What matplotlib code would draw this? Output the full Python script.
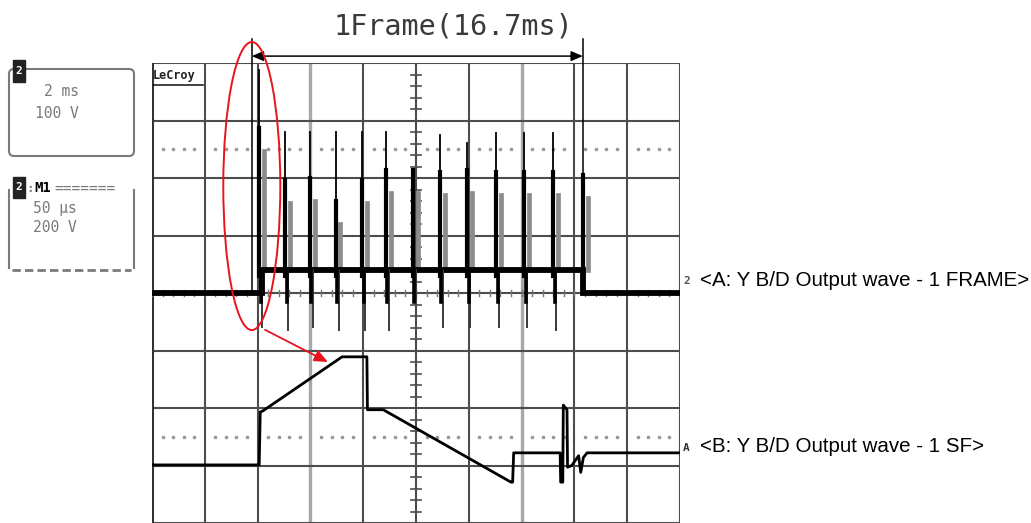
import matplotlib
matplotlib.use("Agg")
import matplotlib.pyplot as plt
from matplotlib.patches import Ellipse, FancyBboxPatch, Rectangle, FancyArrowPatch

# ---------------- data (scope grid divisions; x: 0..10, y: -4..4, 0 = centre line) ----------------
# Channel A (upper trace): 1 frame, 2 ms/div, 100 V/div
a_level_t = [0.0, 2.08, 2.08, 8.16, 8.16, 10.0]
a_level_v = [0.0, 0.0, 0.40, 0.40, 0.0, 0.0]
spike_t    = [2.03, 2.52, 2.99, 3.48, 3.98, 4.43, 4.94, 5.45, 5.97, 6.52, 7.05, 7.60, 8.16]
spike_up   = [3.88, 2.80, 2.80, 2.80, 2.80, 2.80, 2.14, 2.75, 2.61, 2.78, 2.78, 2.78, 2.05]
spike_mid  = [2.87, 1.97, 2.00, 1.60, 1.97, 2.14, 2.14, 2.10, 2.14, 2.10, 2.10, 2.10, 2.05]
spike_down = [-0.59, -0.64, -0.59, -0.64, -0.64, -0.64, -0.12, -0.59, -0.59, -0.59, -0.59, -0.64, 0.0]

# Channel B (lower trace): 1 sub-field, 50 us/div, 200 V/div
b_t = [0.0, 2.03, 2.05, 2.10, 3.60, 4.07, 4.08, 4.38, 6.80, 6.83, 6.85, 7.73, 7.74, 7.78,
       7.79, 7.86, 7.87, 7.95, 8.08, 8.12, 8.17, 8.24, 10.0]
b_v = [-2.99, -2.99, -2.07, -2.05, -1.11, -1.11, -2.03, -2.03, -3.29, -3.29, -2.78, -2.78, -3.29, -3.29,
       -1.95, -2.03, -3.03, -3.00, -2.83, -3.12, -2.86, -2.78, -2.78]

frame_label = "1Frame(16.7ms)"
label_a = "<A: Y B/D Output wave - 1 FRAME>"
label_b = "<B: Y B/D Output wave - 1 SF>"
panel1_lines = ["2 ms", "100 V"]
panel2_lines = ["50 \u03bcs", "200 V"]

# ---------------- figure ----------------
fig = plt.figure(figsize=(10.31, 5.23), dpi=100)
fig.patch.set_facecolor("white")

ax = fig.add_axes([152 / 1031, 0.0, 528 / 1031, 460 / 523])
ax.set_xlim(0, 10)
ax.set_ylim(-4, 4)
ax.axis("off")

grid_c = "#4d4d4d"
for i in range(11):
    if i in (3, 7):
        ax.axvline(i, color="#a8a8a8", lw=2.4, zorder=1)
    else:
        ax.axvline(i, color=grid_c, lw=1.5, zorder=1)
for j in range(-4, 5):
    ax.axhline(j, color=grid_c, lw=1.5, zorder=1)
ax.axvline(0, color="#333333", lw=2.2, zorder=1)

# centre-axis minor ticks
for k in range(-20, 21):
    ax.plot([4.9, 5.1], [k / 5, k / 5], color=grid_c, lw=1.2, zorder=1)
for k in range(0, 51):
    ax.plot([k / 5, k / 5], [-0.05, 0.05], color="#777777", lw=1.0, zorder=1)

# dotted lines at +/-2.5 div
for yy in (2.5, -2.5):
    xs = [k / 5 for k in range(1, 50) if k % 5 != 0]
    ax.plot(xs, [yy] * len(xs), linestyle="none", marker="s", ms=1.4, color="#999999", zorder=1)

# ---- trace A ----
ax.plot(a_level_t, a_level_v, color="black", lw=4.2, solid_joinstyle="miter", zorder=4)
for t, up, mid, dn in zip(spike_t, spike_up, spike_mid, spike_down):
    ax.plot([t + 0.09, t + 0.09], [0.4, mid - 0.4], color="#8c8c8c", lw=3.4, zorder=3)
    ax.plot([t, t], [0.3, up], color="black", lw=1.3, zorder=5)
    ax.plot([t, t], [0.3, mid], color="black", lw=3.0, zorder=5)
    if dn < 0:
        ax.plot([t + 0.06, t + 0.06], [0.4, dn], color="#3a3a3a", lw=1.4, zorder=5)
        ax.plot([t + 0.03, t + 0.03], [0.4, -0.15], color="black", lw=2.6, zorder=5)

# ---- trace B ----
ax.plot(b_t, b_v, color="black", lw=2.0, zorder=5)

# ---- annotations on the scope axes ----
x0, x1 = 1.89, spike_t[-1]
ax.plot([x0, x0], [0.0, 4.42], color="black", lw=1.1, clip_on=False, zorder=6)
ax.plot([x1, x1], [0.0, 4.42], color="black", lw=1.1, clip_on=False, zorder=6)
ax.add_patch(FancyArrowPatch((x0, 4.12), (x1, 4.12), arrowstyle="<|-|>,head_length=7,head_width=3",
                             mutation_scale=1, color="black", lw=1.1, shrinkA=0, shrinkB=0,
                             clip_on=False, zorder=6))
ax.text((x0 + x1) / 2 + 0.68, 4.63, frame_label, ha="center", va="center",
        family="DejaVu Sans Mono", fontsize=20.5, color="#3a3a3a", clip_on=False)

ax.add_patch(Ellipse((1.89, 1.86), 1.08, 5.01, fill=False, edgecolor="#e8141c", lw=1.4,
                     clip_on=False, zorder=7))
ax.add_patch(FancyArrowPatch((2.14, -0.64), (3.33, -1.2), arrowstyle="-|>,head_length=8,head_width=3.5",
                             mutation_scale=1, color="#e8141c", lw=1.3, shrinkA=0, shrinkB=0,
                             clip_on=False, zorder=7))

# ---- overlay in pixel coordinates for side panels & labels ----
ov = fig.add_axes([0, 0, 1, 1], zorder=10)
ov.set_xlim(0, 1031)
ov.set_ylim(523, 0)
ov.axis("off")
ov.patch.set_alpha(0)

panel_c = "#7a7a7a"
mono = "DejaVu Sans Mono"
# panel 1
ov.add_patch(FancyBboxPatch((9, 69), 125, 87, boxstyle="round,pad=0,rounding_size=5",
                            fill=False, edgecolor=panel_c, lw=1.5))
ov.add_patch(Rectangle((13, 60), 12, 22, color="#222222"))
ov.text(19, 71, "2", color="white", fontsize=8, ha="center", va="center", family=mono, weight="bold")
ov.text(79, 92, panel1_lines[0], ha="right", va="center", family=mono, fontsize=10.5, color=panel_c)
ov.text(79, 113, panel1_lines[1], ha="right", va="center", family=mono, fontsize=10.5, color=panel_c)
# panel 2
ov.plot([9, 9], [190, 268], color=panel_c, lw=1.5)
ov.plot([134, 134], [190, 268], color=panel_c, lw=1.5)
ov.plot([12, 131], [270, 270], color=panel_c, lw=2.0, linestyle=(0, (3, 1.5)))
ov.add_patch(Rectangle((13, 177), 12, 21, color="#222222"))
ov.text(19, 187, "2", color="white", fontsize=8, ha="center", va="center", family=mono, weight="bold")
ov.text(26, 188, ":", color=panel_c, fontsize=9, ha="left", va="center", family=mono, weight="bold")
ov.text(34, 188, "M1", color="black", fontsize=10, ha="left", va="center", family=mono, weight="bold")
ov.text(54, 188, "=======", color=panel_c, fontsize=10.5, ha="left", va="center", family=mono)
ov.text(77, 208, panel2_lines[0], ha="right", va="center", family=mono, fontsize=10.5, color=panel_c)
ov.text(77, 228, panel2_lines[1], ha="right", va="center", family=mono, fontsize=10.5, color=panel_c)

# LeCroy logo
ov.text(153, 75, "LeCroy", ha="left", va="center", family=mono, fontsize=8.5, weight="bold", color="#222222")
ov.plot([153, 203], [85, 85], color="#222222", lw=1.2)

# channel markers on the right edge
ov.text(683, 281, "2", ha="left", va="center", family=mono, fontsize=8, weight="bold", color="#555555")
ov.text(683, 448, "A", ha="left", va="center", family=mono, fontsize=8, weight="bold", color="#333333")

# trace labels
ov.text(700, 280, label_a, ha="left", va="center", family="Liberation Sans", fontsize=14.8, color="black")
ov.text(700, 447, label_b, ha="left", va="center", family="Liberation Sans", fontsize=14.8, color="black")

fig.savefig("out.png", dpi=100, facecolor="white")
